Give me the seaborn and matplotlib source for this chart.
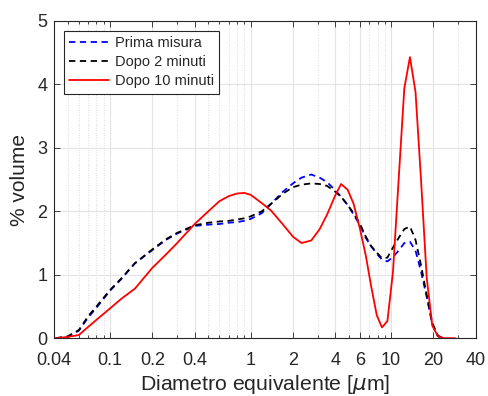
import numpy as np
import pandas as pd
import matplotlib
matplotlib.use("Agg")
import matplotlib.pyplot as plt
from matplotlib.ticker import FixedLocator, FixedFormatter, LogLocator, NullFormatter
import seaborn as sns

# Particle size distribution (% volume per size class)
diametri = [0.041, 0.05, 0.06, 0.07, 0.08, 0.1, 0.12, 0.15, 0.2, 0.25, 0.3, 0.4,
            0.5, 0.6, 0.7, 0.8, 0.9, 1.0, 1.2, 1.4, 1.7, 2.0, 2.3, 2.7, 3.1, 3.5,
            4.0, 4.4, 4.9, 5.4, 6.0, 6.6, 7.2, 7.9, 8.6, 9.4, 10.3, 11.3, 12.4,
            13.6, 14.9, 16.3, 17.9, 19.6, 21.5, 23.6, 26.0, 28.5]

prima_misura = [0.0, 0.02, 0.12, 0.33, 0.48, 0.75, 0.93, 1.18, 1.39, 1.55, 1.65, 1.77,
                1.79, 1.80, 1.82, 1.83, 1.85, 1.88, 1.97, 2.12, 2.31, 2.44, 2.53, 2.58,
                2.53, 2.46, 2.33, 2.23, 2.10, 1.95, 1.78, 1.58, 1.45, 1.33, 1.24, 1.21,
                1.28, 1.38, 1.50, 1.52, 1.38, 1.05, 0.65, 0.22, 0.03, 0.0, None, None]

dopo_2_minuti = [0.0, 0.03, 0.13, 0.35, 0.50, 0.76, 0.94, 1.18, 1.40, 1.56, 1.66, 1.78,
                 1.82, 1.84, 1.85, 1.87, 1.89, 1.92, 2.00, 2.12, 2.28, 2.38, 2.42, 2.44,
                 2.43, 2.40, 2.31, 2.23, 2.10, 1.97, 1.80, 1.60, 1.45, 1.35, 1.26, 1.27,
                 1.43, 1.58, 1.72, 1.76, 1.55, 1.15, 0.68, 0.24, 0.04, 0.0, None, None]

dopo_10_minuti = [0.0, 0.02, 0.05, 0.18, 0.29, 0.47, 0.62, 0.78, 1.11, 1.32, 1.50, 1.80,
                  2.00, 2.16, 2.24, 2.28, 2.29, 2.26, 2.13, 2.01, 1.79, 1.60, 1.50, 1.54,
                  1.72, 1.95, 2.25, 2.43, 2.34, 2.12, 1.72, 1.30, 0.82, 0.36, 0.17, 0.27,
                  1.05, 2.50, 3.94, 4.43, 3.88, 2.50, 0.95, 0.20, 0.03, 0.0, 0.0, 0.0]

serie = ["Prima misura", "Dopo 2 minuti", "Dopo 10 minuti"]
colori = {"Prima misura": "#0000ff", "Dopo 2 minuti": "#000000", "Dopo 10 minuti": "#ff0000"}
tratti = {"Prima misura": (3.5, 2.5), "Dopo 2 minuti": (3.5, 2.5), "Dopo 10 minuti": ""}

x_ticks = [0.04, 0.1, 0.2, 0.4, 1, 2, 4, 6, 10, 20, 40]
x_labels = ["0.04", "0.1", "0.2", "0.4", "1", "2", "4", "6", "10", "20", "40"]
y_ticks = [0, 1, 2, 3, 4, 5]

frames = []
for nome, valori in zip(serie, [prima_misura, dopo_2_minuti, dopo_10_minuti]):
    df = pd.DataFrame({"d": diametri, "v": valori, "serie": nome}).dropna()
    frames.append(df)
dati = pd.concat(frames, ignore_index=True)

sns.set_style("ticks")
plt.rcParams["font.family"] = ["Liberation Sans", "DejaVu Sans"]
plt.rcParams["mathtext.fontset"] = "dejavusans"

testo = "#262626"
fig = plt.figure(figsize=(4.88, 3.96), dpi=100)
ax = fig.add_axes([0.111, 0.146, 0.864, 0.801])

sns.lineplot(data=dati, x="d", y="v", hue="serie", style="serie",
             hue_order=serie, style_order=serie, palette=colori, dashes=tratti,
             estimator=None, sort=True, linewidth=1.3, ax=ax)

ax.set_xscale("log")
ax.set_xlim(0.04, 40)
ax.set_ylim(0, 5)

ax.xaxis.set_major_locator(FixedLocator(x_ticks))
ax.xaxis.set_major_formatter(FixedFormatter(x_labels))
ax.xaxis.set_minor_locator(LogLocator(base=10, subs=np.arange(2, 10)))
ax.xaxis.set_minor_formatter(NullFormatter())
ax.set_yticks(y_ticks)

ax.grid(True, which="major", color="#e3e3e3", linewidth=0.8, linestyle="-")
ax.grid(True, which="minor", axis="x", color="#d0d0d0", linewidth=0.6, linestyle=(0, (1, 2)))
ax.set_axisbelow(True)

for s in ax.spines.values():
    s.set_color(testo)
    s.set_linewidth(0.8)
ax.tick_params(which="both", direction="in", top=True, right=True, colors=testo,
               labelsize=13, width=0.6)
ax.tick_params(which="major", length=4)
ax.tick_params(which="minor", length=2.5)
ax.tick_params(axis="x", which="major", pad=10)
ax.tick_params(axis="y", which="major", pad=5)

ax.set_xlabel("Diametro equivalente [$\\mu$m]", fontsize=15.3, color=testo, labelpad=3)
ax.set_ylabel("% volume", fontsize=15, color=testo, labelpad=6)

handles, labels = ax.get_legend_handles_labels()
leg = ax.legend(handles, labels, loc="upper left", bbox_to_anchor=(0.024, 0.968),
                borderaxespad=0, fontsize=10.5, frameon=True, fancybox=False,
                framealpha=1, edgecolor=testo, handlelength=2.7, handletextpad=0.4,
                labelspacing=0.35, borderpad=0.35)
leg.get_frame().set_linewidth(0.8)
for t in leg.get_texts():
    t.set_color(testo)

fig.savefig("out.png", dpi=100)
